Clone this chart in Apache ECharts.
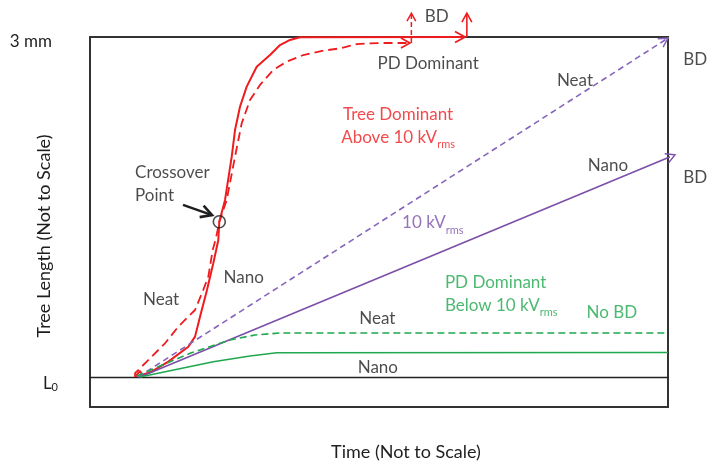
<!DOCTYPE html>
<html><head><meta charset="utf-8">
<script src="https://cdn.jsdelivr.net/npm/echarts@6/dist/echarts.min.js"></script>
<style>html,body{margin:0;padding:0;background:#fff}#c{width:708px;height:465px}</style>
</head><body><div id="c"></div>
<script>
// Schematic chart. x: time (arbitrary units 0-100), y: tree length (L0 = 0, 3 mm = 3)
const yTickValues = [0, 3];
const xAxisTitle = 'Time (Not to Scale)';
const yAxisTitle = 'Tree Length (Not to Scale)';

// Above 10 kVrms (tree dominant)
const neatAbove = [[7.79,0],[7.79,0.033],[9.81,0.135],[12.98,0.297],[15.28,0.444],[18.17,0.591],[19.6,0.768],[20.47,0.885],[21.23,1.121],[21.8,1.227],[22.37,1.37],[23.65,1.562],[25.09,1.944],[26.25,2.239],[27.68,2.444],[29.41,2.577],[31.71,2.709],[34.03,2.782],[36.9,2.841],[40.36,2.879],[43.25,2.9],[46.19,2.938],[50.17,2.947],[55.36,2.947]];
const nanoAbove = [[8.08,0],[8.08,0.018],[8.65,0.053],[9.0,0.018],[10.67,0.047],[13.55,0.135],[17.01,0.267],[18.17,0.356],[19.2,0.565],[20.24,0.768],[21.33,1.003],[22.2,1.209],[22.37,1.37],[23.36,1.562],[24.52,1.944],[25.09,2.179],[25.95,2.385],[27.11,2.562],[28.84,2.738],[31.14,2.841],[32.87,2.929],[34.6,2.974],[36.33,2.997],[64.88,3.0]];
// Breakdown markers at the end of the tree-dominant curves
const neatAboveBD = [[55.6,2.947],[55.6,3.21]];
const nanoAboveBD = [[65.2,3.0],[65.2,3.21]];
// At 10 kVrms
const neat10kV = [[8.3,0],[100,2.99]];
const nano10kV = [[8.65,0],[101.2,1.96]];
// Below 10 kVrms (PD dominant)
const neatBelow = [[8.08,0.009],[17.3,0.209],[24.22,0.326],[28.55,0.371],[32.87,0.388],[100,0.388]];
const nanoBelow = [[8.65,0],[21.33,0.135],[27.68,0.185],[32.3,0.214],[100,0.216]];
// Crossover point
const crossover = [[22.37,1.37]];
const crossoverPointer = [[16.09,1.518],[21.11,1.429]];

const RED = '#ee1c1f', PURPLE = '#7b4fa8', PURPLE_L = '#8564bb', GREEN = '#1fa84e', BLACK = '#1e1e1e';
const FONT = 'Lato, "Open Sans", sans-serif';

const annotations = [
  {text:'PD Dominant', x:58.5, y:2.77, color:BLACK},
  {text:'{m|Tree Dominant}\n{m|Above 10 kV}{s|rms}', x:53.3, y:2.21, color:RED},
  {text:'Neat', x:83.9, y:2.62, color:BLACK},
  {text:'BD', x:104.7, y:2.80, color:BLACK},
  {text:'BD', x:104.7, y:1.76, color:BLACK},
  {text:'Nano', x:89.6, y:1.87, color:BLACK},
  {text:'{m|10 kV}{s|rms}', x:54.0, y:1.35, color:PURPLE, align:'left'},
  {text:'{m|PD Dominant}\n{m|Below 10 kV}{s|rms}', x:61.4, y:0.72, color:GREEN, align:'left'},
  {text:'No BD', x:90.3, y:0.565, color:GREEN},
  {text:'Neat', x:49.7, y:0.52, color:BLACK},
  {text:'Nano', x:49.8, y:0.08, color:BLACK},
  {text:'Neat', x:12.3, y:0.68, color:BLACK},
  {text:'Nano', x:26.6, y:0.88, color:BLACK},
  {text:'Crossover\nPoint', x:7.8, y:1.707, color:BLACK, align:'left'},
  {text:'BD', x:60.0, y:3.18, color:BLACK}
];

const richStyles = {
  m: {fontSize:17, fontFamily:FONT, padding:[0,0,4,0], verticalAlign:'bottom', lineHeight:23},
  s: {fontSize:11, fontFamily:FONT, verticalAlign:'bottom', lineHeight:13}
};

function seg(points, color, size, width) {
  const n = points.length;
  return {value:[points[n-2][0], points[n-2][1], points[n-1][0], points[n-1][1]], color, size, width};
}
const arrowHeads = [
  seg(neatAbove, RED, 9, 1.6),
  seg(nanoAbove, RED, 10, 1.8),
  seg(neatAboveBD, RED, 8, 1.5),
  seg(nanoAboveBD, RED, 9, 1.6),
  seg(neat10kV, PURPLE_L, 9, 1.5),
  seg(nano10kV, PURPLE, 9, 1.5),
  seg(crossoverPointer, BLACK, 11, 2.6)
];

function lineSeries(name, data, color, width, dashed) {
  return {
    name, type:'line', data, symbol:'none', clip:false, silent:true, z:3,
    lineStyle:{color, width, type: dashed ? dashed : 'solid'}
  };
}

const chart = echarts.init(document.getElementById('c'), null, {renderer:'canvas'});
chart.setOption({
  animation:false,
  backgroundColor:'#fff',
  grid:{left:90, top:37, width:578, height:370, show:true, borderColor:'#333', borderWidth:2,
        outerBoundsMode:'none'},
  xAxis:{
    type:'value', min:0, max:100,
    name:xAxisTitle, nameLocation:'middle', nameGap:36, nameMoveOverlap:false,
    nameTextStyle:{fontFamily:FONT, fontSize:18, color:BLACK, padding:[0,0,0,54]},
    axisLine:{show:true, onZero:true, lineStyle:{color:'#222', width:1.3}},
    axisTick:{show:false}, axisLabel:{show:false}, splitLine:{show:false}
  },
  yAxis:{
    type:'value', min:-0.265, max:3,
    name:yAxisTitle, nameLocation:'middle', nameGap:37, nameRotate:90, nameMoveOverlap:false,
    nameTextStyle:{fontFamily:FONT, fontSize:18, color:BLACK, padding:[0,28,0,0]},
    axisLine:{show:false}, axisTick:{show:false}, splitLine:{show:false},
    axisLabel:{
      customValues:yTickValues, margin:32, color:BLACK, fontFamily:FONT, fontSize:17,
      formatter:v => v === 3 ? '{a|3 mm}' : '{b|L}{c|0}',
      rich:{
        a:{fontSize:17, fontFamily:FONT, color:BLACK, padding:[10,6,0,0]},
        b:{fontSize:17, fontFamily:FONT, color:BLACK, padding:[14,0,0,0], verticalAlign:'bottom'},
        c:{fontSize:11, fontFamily:FONT, color:BLACK, padding:[14,0,0,0], verticalAlign:'bottom'}
      }
    }
  },
  series:[
    lineSeries('Neat >10 kV', neatAbove, RED, 1.8, [9,5]),
    lineSeries('Nano >10 kV', nanoAbove, RED, 2),
    lineSeries('Neat BD', neatAboveBD, RED, 1.5, [5,3]),
    lineSeries('Nano BD', nanoAboveBD, RED, 1.6),
    lineSeries('Neat 10 kV', neat10kV, PURPLE_L, 1.6, [6,4]),
    lineSeries('Nano 10 kV', nano10kV, PURPLE, 1.6),
    lineSeries('Neat <10 kV', neatBelow, GREEN, 1.6, [7,4]),
    lineSeries('Nano <10 kV', nanoBelow, GREEN, 1.6),
    lineSeries('Crossover pointer', crossoverPointer, BLACK, 2.4),
    {
      name:'Crossover point', type:'scatter', data:crossover, symbol:'circle', symbolSize:12, clip:false, silent:true, z:4,
      itemStyle:{color:'rgba(0,0,0,0)', borderColor:BLACK, borderWidth:1.6}
    },
    {
      name:'Arrow heads', type:'custom', clip:false, silent:true, z:4,
      encode:{x:[0,2], y:[1,3]},
      data:arrowHeads.map(a => ({value:a.value})),
      renderItem:(params, api) => {
        const a = arrowHeads[params.dataIndex];
        const p0 = api.coord([api.value(0), api.value(1)]);
        const p1 = api.coord([api.value(2), api.value(3)]);
        const dx = p1[0]-p0[0], dy = p1[1]-p0[1], len = Math.hypot(dx, dy) || 1;
        const ux = dx/len, uy = dy/len, nx = -uy, ny = ux;
        const L = a.size, W = a.size * 0.55;
        return {
          type:'polyline',
          shape:{points:[[p1[0]-ux*L+nx*W, p1[1]-uy*L+ny*W],[p1[0],p1[1]],[p1[0]-ux*L-nx*W, p1[1]-uy*L-ny*W]]},
          style:{stroke:a.color, lineWidth:a.width, fill:null, lineJoin:'miter'}
        };
      }
    },
    {
      name:'Annotations', type:'scatter', symbolSize:0, clip:false, silent:true, z:5,
      data:annotations.map(a => ({
        value:[a.x, a.y],
        label:{
          show:true, position:[0,0], formatter:a.text, color:a.color,
          align:a.align || 'center', verticalAlign:'middle',
          fontFamily:FONT, fontSize:17, lineHeight:23,
          rich:{
            m:Object.assign({color:a.color}, richStyles.m),
            s:Object.assign({color:a.color}, richStyles.s)
          }
        }
      }))
    }
  ]
});
</script></body></html>
